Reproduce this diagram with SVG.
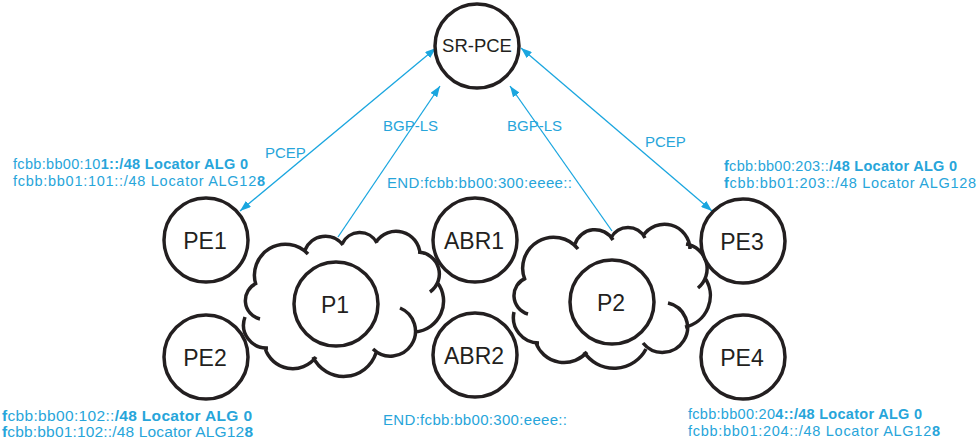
<svg xmlns="http://www.w3.org/2000/svg" width="977" height="443" viewBox="0 0 977 443">
<style>
.node{fill:#fff;stroke:#231f20;stroke-width:3.5}
.nt{font-family:"Liberation Sans",Arial,sans-serif;fill:#231f20;text-anchor:middle}
.cloud{fill:none;stroke:#231f20;stroke-width:3.5;stroke-linecap:butt}
.conn{stroke:#1aa6df;stroke-width:1.3;fill:none}
.lbl{font-family:"Liberation Sans",Arial,sans-serif;fill:#27a5da;font-size:15px}
.loc{font-family:"Liberation Sans",Arial,sans-serif;fill:#27a5da;font-size:14.5px}
.b{font-weight:bold}
</style>
<defs>
<marker id="ah" markerUnits="userSpaceOnUse" markerWidth="11" markerHeight="8" refX="11" refY="4" orient="auto-start-reverse">
<path d="M0,0 L11,4 L0,8 z" fill="#1aa6df"/>
</marker>
</defs>
<rect width="977" height="443" fill="#fff"/>
<g id="cloud1">
<path class="cloud" d="M260,319 A19,19 0 0 1 257,283 M256,285 A31,31 0 0 1 308,254 M305,250 A22,22 0 0 1 343,245 M342,244 A19.5,19.5 0 0 1 377,243 M376,242 A24,24 0 0 1 420,254 M418,252 A22,22 0 0 1 430,292 M437,282 A31,31 0 0 1 415,332 M400,308 A25,25 0 1 1 373,349 M376,353 A34,34 0 0 1 313,357 M316,357 A29,29 0 0 1 265,348 M268,348 A23,23 0 0 1 245,317"/>
</g>
<g id="cloud2">
<path class="cloud" d="M528,314 A19,19 0 0 1 526,278 M525,280 A31,31 0 0 1 578,249 M575,244 A21,21 0 0 1 613,240 M611,238 A19,19 0 0 1 645,238 M643,236 A25.5,25.5 0 0 1 690,249 M686,244 A25,25 0 0 1 698,288 M705,278 A32,32 0 0 1 685,327 M668,303 A25,25 0 1 1 643,343 M646,349 A36,36 0 0 1 584,352 M587,352 A30,30 0 0 1 536,343 M539,343 A25.5,25.5 0 0 1 514,312"/>
</g>
<g id="connectors">
<line class="conn" x1="240" y1="211" x2="436" y2="48" marker-start="url(#ah)" marker-end="url(#ah)"/>
<line class="conn" x1="338" y1="237" x2="440" y2="86" marker-end="url(#ah)"/>
<line class="conn" x1="612" y1="231" x2="510" y2="86" marker-end="url(#ah)"/>
<line class="conn" x1="521" y1="48" x2="712" y2="211" marker-start="url(#ah)" marker-end="url(#ah)"/>
<text class="lbl" x="265" y="158">PCEP</text>
<text class="lbl" x="383" y="131">BGP-LS</text>
<text class="lbl" x="507" y="131">BGP-LS</text>
<text class="lbl" x="645" y="147">PCEP</text>
</g>
<g id="SR-PCE"><circle class="node" cx="477" cy="46" r="42"/><text class="nt" x="477" y="52" font-size="18.5">SR-PCE</text></g>
<g id="PE1"><circle class="node" cx="206" cy="240" r="42"/><text class="nt" x="205" y="249" font-size="23">PE1</text></g>
<g id="PE2"><circle class="node" cx="206" cy="357" r="42"/><text class="nt" x="205" y="366" font-size="23">PE2</text></g>
<g id="ABR1"><circle class="node" cx="475" cy="240" r="42"/><text class="nt" x="474" y="249" font-size="23">ABR1</text></g>
<g id="ABR2"><circle class="node" cx="475" cy="355" r="42"/><text class="nt" x="474" y="364" font-size="23">ABR2</text></g>
<g id="PE3"><circle class="node" cx="743" cy="241" r="42"/><text class="nt" x="742" y="250" font-size="23">PE3</text></g>
<g id="PE4"><circle class="node" cx="743" cy="357" r="42"/><text class="nt" x="742" y="366" font-size="23">PE4</text></g>
<g id="P1"><circle class="node" cx="336" cy="304" r="42"/><text class="nt" x="335" y="313" font-size="23">P1</text></g>
<g id="P2"><circle class="node" cx="612" cy="302" r="42"/><text class="nt" x="611" y="311" font-size="23">P2</text></g>
<g id="labels">
<text class="lbl" x="387" y="188" textLength="185">END:fcbb:bb00:300:eeee::</text>
<text class="lbl" x="383" y="425" textLength="184">END:fcbb:bb00:300:eeee::</text>
<text class="loc" x="13" y="169" textLength="235">fcbb:bb00:10<tspan class="b">1::/48 Locator ALG 0</tspan></text>
<text class="loc" x="13" y="186" textLength="252">fcbb:bb01:101::/48 Locator ALG12<tspan class="b">8</tspan></text>
<text class="loc" x="724" y="171" textLength="233"><tspan class="b">f</tspan>cbb:bb00:203::<tspan class="b">/48 Locator ALG 0</tspan></text>
<text class="loc" x="724" y="188" textLength="252"><tspan class="b">f</tspan>cbb:bb01:203::/48 Locator ALG128</text>
<text class="loc" x="2" y="421" textLength="250" style="font-size:15.5px"><tspan class="b">f</tspan>cbb:bb00:102::<tspan class="b">/48 Locator ALG 0</tspan></text>
<text class="loc" x="2" y="437" textLength="251" style="font-size:15.5px"><tspan class="b">f</tspan>cbb:bb01:102::/48 Locator ALG12<tspan class="b">8</tspan></text>
<text class="loc" x="688" y="419" textLength="234">fcbb:bb00:20<tspan class="b">4::/48 Locator ALG 0</tspan></text>
<text class="loc" x="688" y="436" textLength="252">fcbb:bb01:204::/48 Locator ALG12<tspan class="b">8</tspan></text>
</g>
</svg>
